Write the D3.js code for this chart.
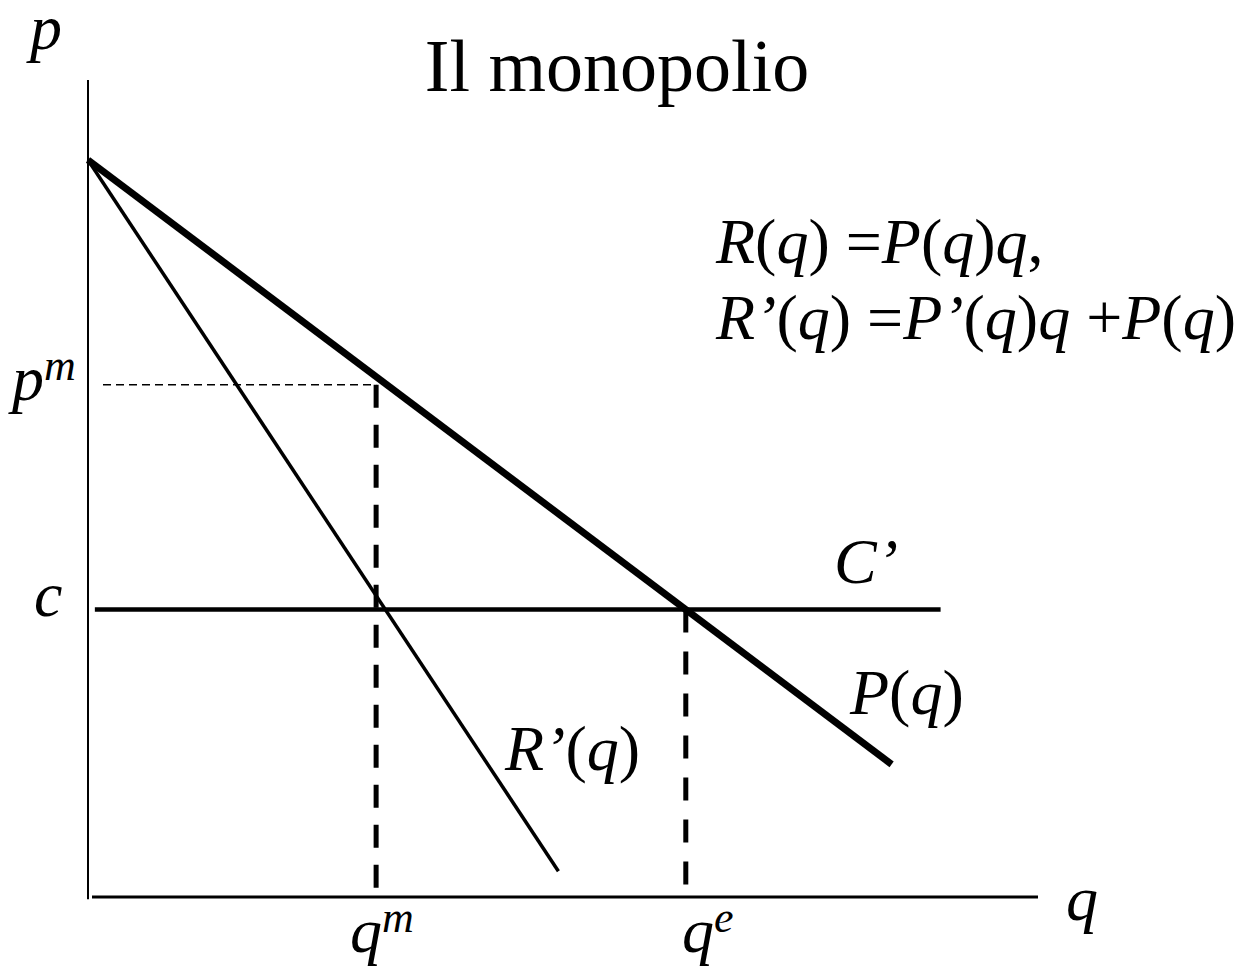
<!DOCTYPE html>
<html>
<head>
<meta charset="utf-8">
<script src="https://cdn.jsdelivr.net/npm/d3@7"></script>
<style>
  body { margin: 0; background: #fff; }
  text { font-family: "Liberation Serif", "Times New Roman", serif; fill: #000; }
  .it { font-style: italic; }
</style>
</head>
<body>
<div id="chart"></div>
<script>

// Values (q on x, p on y)
const demandQ = [0, 8.2];        // P(q)
const demandP = [10, 1.8];
const marginalQ = [0, 4.8];      // R'(q)
const marginalP = [10, 0.35];
const costQ = [0.07, 8.7];       // C' = c
const costP = 3.9;
const qMono = 2.94;
const pMono = 6.95;
const qEq = 6.1;

function chart(width, height, selector) {

  /////////////////////////////
  //// Scales and svg ////
  /////////////////////////////

  let x = d3.scaleLinear()
    .domain([0, 10])
    .range([88, 1068]);

  let y = d3.scaleLinear()
    .domain([0, 10])
    .range([897, 160]);

  let svg = d3.select(selector)
    .append("svg")
    .attr("width", width)
    .attr("height", height);

  let line = d3.line()
    .x(d => x(d[0]))
    .y(d => y(d[1]));

  // axes
  svg.append("path")
    .attr("d", line([[0, -0.03], [0, y.invert(80)]]))
    .attr("stroke", "#000")
    .attr("stroke-width", 2)
    .attr("fill", "none");

  svg.append("path")
    .attr("d", line([[x.invert(92), 0], [x.invert(1038), 0]]))
    .attr("stroke", "#000")
    .attr("stroke-width", 3)
    .attr("fill", "none");

  // pm guide
  svg.append("path")
    .attr("d", line([[x.invert(103), pMono], [qMono, pMono]]))
    .attr("stroke", "#000")
    .attr("stroke-width", 1.5)
    .attr("stroke-dasharray", "8,5")
    .attr("fill", "none");

  // vertical dashed lines
  svg.append("path")
    .attr("d", line([[qMono, pMono], [qMono, y.invert(890)]]))
    .attr("stroke", "#000")
    .attr("stroke-width", 5)
    .attr("stroke-dasharray", "23,17")
    .attr("fill", "none");

  svg.append("path")
    .attr("d", line([[qEq, costP], [qEq, y.invert(886)]]))
    .attr("stroke", "#000")
    .attr("stroke-width", 5)
    .attr("stroke-dasharray", "23,19")
    .attr("fill", "none");

  // marginal cost
  svg.append("path")
    .attr("d", line(costQ.map(q => [q, costP])))
    .attr("stroke", "#000")
    .attr("stroke-width", 4.5)
    .attr("fill", "none");

  // marginal revenue
  svg.append("path")
    .attr("d", line(d3.zip(marginalQ, marginalP)))
    .attr("stroke", "#000")
    .attr("stroke-width", 3.5)
    .attr("fill", "none");

  // demand
  svg.append("path")
    .attr("d", line(d3.zip(demandQ, demandP)))
    .attr("stroke", "#000")
    .attr("stroke-width", 7)
    .attr("fill", "none");

  ////////////////
  //// Labels ////
  ////////////////

  svg.append("text")
    .attr("x", 617)
    .attr("y", 91)
    .attr("text-anchor", "middle")
    .attr("font-size", 74)
    .text("Il monopolio");

  svg.append("text")
    .attr("class", "it")
    .attr("x", 30)
    .attr("y", 49)
    .attr("font-size", 64)
    .text("p");

  let pm = svg.append("text")
    .attr("x", 12)
    .attr("y", y(pMono) + 15)
    .attr("font-size", 64)
    .attr("class", "it");
  pm.append("tspan").text("p");
  pm.append("tspan").attr("font-size", 44).attr("dy", -20).text("m");

  svg.append("text")
    .attr("class", "it")
    .attr("x", 34)
    .attr("y", y(costP) + 6)
    .attr("font-size", 64)
    .text("c");

  svg.append("text")
    .attr("class", "it")
    .attr("x", 834)
    .attr("y", 583)
    .attr("font-size", 64)
    .text("C’");

  let pq = svg.append("text")
    .attr("x", 850)
    .attr("y", 714)
    .attr("font-size", 64);
  pq.append("tspan").attr("class", "it").text("P");
  pq.append("tspan").text("(");
  pq.append("tspan").attr("class", "it").text("q");
  pq.append("tspan").text(")");

  let rq = svg.append("text")
    .attr("x", 505)
    .attr("y", 770)
    .attr("font-size", 64);
  rq.append("tspan").attr("class", "it").text("R’");
  rq.append("tspan").text("(");
  rq.append("tspan").attr("class", "it").text("q");
  rq.append("tspan").text(")");

  let qmLabel = svg.append("text")
    .attr("class", "it")
    .attr("x", 350)
    .attr("y", 952)
    .attr("font-size", 64);
  qmLabel.append("tspan").text("q");
  qmLabel.append("tspan").attr("font-size", 44).attr("dy", -20).text("m");

  let qeLabel = svg.append("text")
    .attr("class", "it")
    .attr("x", 682)
    .attr("y", 952)
    .attr("font-size", 64);
  qeLabel.append("tspan").text("q");
  qeLabel.append("tspan").attr("font-size", 44).attr("dy", -20).text("e");

  svg.append("text")
    .attr("class", "it")
    .attr("x", 1066)
    .attr("y", 920)
    .attr("font-size", 64)
    .text("q");

  // formulas
  let formulas = [
    [["R", 1], ["(", 0], ["q", 1], [") =", 0], ["P", 1], ["(", 0], ["q", 1], [")", 0], ["q", 1], [",", 0]],
    [["R’", 1], ["(", 0], ["q", 1], [") =", 0], ["P’", 1], ["(", 0], ["q", 1], [")", 0], ["q", 1], [" +", 0], ["P", 1], ["(", 0], ["q", 1], [")", 0]]
  ];

  formulas.forEach((parts, i) => {
    let t = svg.append("text")
      .attr("x", 716)
      .attr("y", 263 + i * 76)
      .attr("font-size", 64);
    parts.forEach(p => {
      t.append("tspan")
        .attr("class", p[1] ? "it" : null)
        .text(p[0]);
    });
  });
}

chart(1252, 973, "#chart");
</script>
</body>
</html>
